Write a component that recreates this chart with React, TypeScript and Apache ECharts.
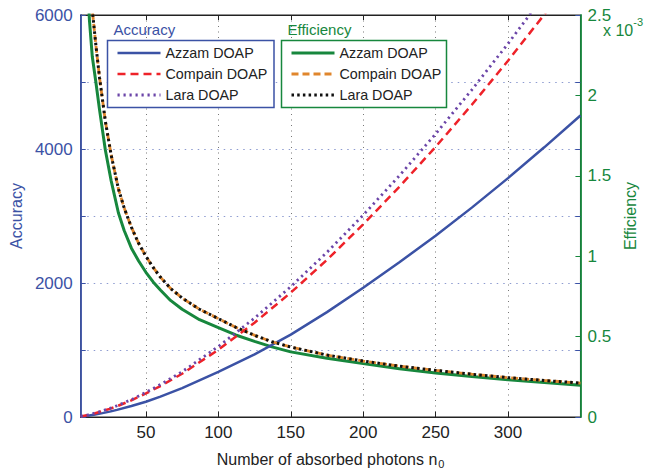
import React, { useEffect, useRef } from "react";
import * as echarts from "echarts";

// ---- data ----
const accN = [5, 10, 15, 20, 25, 30, 40, 50, 60, 75, 100, 125, 150, 175, 200, 225, 250, 275, 300, 325, 350];
const azzamAcc = [5, 20, 38, 58, 80, 106, 165, 228, 305, 430, 672, 935, 1230, 1565, 1930, 2310, 2705, 3125, 3565, 4025, 4500];
const compainAcc = [8, 30, 56, 87, 122, 160, 248, 352, 462, 645, 1003, 1408, 1856, 2345, 2875, 3437, 4032, 4660, 5318, 6006, 6720];
const laraAcc = [9, 31, 59, 91, 128, 168, 260, 368, 484, 676, 1052, 1476, 1945, 2458, 3013, 3602, 4225, 4884, 5573, 6294, 7043];

const effN = [5, 8, 11, 13, 15.5, 18, 22, 26, 31, 35, 40, 45, 50, 55, 60, 67, 75, 87, 100, 112, 125, 137, 150, 175, 200, 225, 250, 275, 300, 325, 350];
// efficiency in units of 1e-3
const azzamEff = [4.1, 3.05, 2.47, 2.24, 2.08, 1.91, 1.66, 1.47, 1.27, 1.16, 1.05, 0.97, 0.9, 0.84, 0.79, 0.725, 0.67, 0.605, 0.556, 0.51, 0.47, 0.436, 0.405, 0.365, 0.332, 0.3, 0.274, 0.252, 0.232, 0.214, 0.197];
const compainEff = [4.7, 3.48, 2.8, 2.53, 2.31, 2.11, 1.84, 1.63, 1.42, 1.3, 1.18, 1.08, 1.0, 0.93, 0.87, 0.8, 0.74, 0.67, 0.612, 0.558, 0.508, 0.468, 0.435, 0.385, 0.348, 0.316, 0.29, 0.266, 0.245, 0.227, 0.211];
const laraEff = [4.7, 3.48, 2.8, 2.53, 2.31, 2.11, 1.84, 1.63, 1.42, 1.3, 1.18, 1.08, 1.0, 0.93, 0.87, 0.8, 0.74, 0.67, 0.612, 0.558, 0.508, 0.468, 0.435, 0.385, 0.348, 0.316, 0.29, 0.266, 0.245, 0.227, 0.211];

const xTicks = [50, 100, 150, 200, 250, 300];
const methodNames = ["Azzam DOAP", "Compain DOAP", "Lara DOAP"];

const FONT = "'Liberation Sans', Arial, Helvetica, sans-serif";
const BLUE = "#3b52a5";
const RED = "#ee2229";
const PURPLE = "#6b45a8";
const GREEN = "#17873d";
const ORANGE = "#e0862c";
const BLACK = "#111111";
const TXT = "#222222";

const pairs = (xs: number[], ys: number[]) => xs.map((x, i) => [x, ys[i]]);

export default function App() {
  const ref = useRef<HTMLDivElement>(null);
  useEffect(() => {
    if (!ref.current) return;
    const chart = echarts.init(ref.current, undefined, { renderer: "svg" });

    const accStyles = [
      { color: BLUE, type: "solid" as any, width: 2.5 },
      { color: RED, type: [8, 5] as any, width: 2.5 },
      { color: PURPLE, type: [2.2, 3.8] as any, width: 2.8 },
    ];
    const effStyles = [
      { color: GREEN, type: "solid" as any, width: 3 },
      { color: ORANGE, type: [7, 4] as any, width: 2.8 },
      { color: BLACK, type: [2.5, 3.2] as any, width: 3 },
    ];

    const legendGraphic = (
      x0: number,
      boxW: number,
      title: string,
      color: string,
      styles: any[]
    ) => {
      const els: any[] = [];
      els.push({
        type: "rect",
        z: 100,
        shape: { x: x0, y: 40.5, width: boxW, height: 67 },
        style: { fill: "#ffffff", stroke: color, lineWidth: 1.5 },
      });
      els.push({
        type: "text",
        z: 101,
        x: x0 + 6,
        y: 29.5,
        style: {
          text: title,
          fill: color,
          font: `15px ${FONT}`,
          verticalAlign: "middle",
        },
      });
      const rows = [53, 74, 95];
      methodNames.forEach((nm, i) => {
        const st = styles[i];
        els.push({
          type: "line",
          z: 101,
          shape: { x1: x0 + 10, y1: rows[i], x2: x0 + 53, y2: rows[i] },
          style: {
            stroke: st.color,
            lineWidth: st.width,
            lineDash: st.type === "solid" ? null : st.type,
          },
        });
        els.push({
          type: "text",
          z: 101,
          x: x0 + 58,
          y: rows[i],
          style: {
            text: nm,
            fill: TXT,
            font: `14.3px ${FONT}`,
            verticalAlign: "middle",
          },
        });
      });
      return els;
    };

    const option: any = {
      animation: false,
      backgroundColor: "#ffffff",
      grid: {
        left: 74,
        right: 62,
        top: 15,
        bottom: 59,
        show: true,
        borderColor: TXT,
        borderWidth: 1,
        backgroundColor: "#ffffff",
      },
      xAxis: [
        {
          type: "value",
          min: 5,
          max: 350,
          position: "bottom",
          axisLine: { show: true, onZero: false, lineStyle: { color: TXT, width: 1.2 } },
          axisTick: {
            show: true,
            inside: true,
            length: 5,
            customValues: xTicks,
            lineStyle: { color: TXT },
          },
          axisLabel: {
            customValues: xTicks,
            color: TXT,
            fontSize: 17,
            margin: 7,
            fontFamily: FONT,
          },
          splitLine: {
            show: true,
            lineStyle: { color: "#777777", type: [1, 4.5], width: 1 },
          },
          name: "{a|Number of absorbed photons n}{b|0}",
          nameLocation: "middle",
          nameGap: 32,
          nameTextStyle: {
            color: TXT,
            fontSize: 16,
            fontFamily: FONT,
            rich: {
              a: { fontSize: 16, color: TXT, fontFamily: FONT },
              b: { fontSize: 11, color: TXT, fontFamily: FONT, padding: [9, 0, 0, 1] },
            },
          },
        },
        {
          type: "value",
          min: 5,
          max: 350,
          position: "top",
          axisLine: { show: true, onZero: false, lineStyle: { color: TXT, width: 1.2 } },
          axisTick: {
            show: true,
            inside: true,
            length: 5,
            customValues: xTicks,
            lineStyle: { color: TXT },
          },
          axisLabel: { show: false },
          splitLine: { show: false },
        },
      ],
      yAxis: [
        {
          type: "value",
          min: 0,
          max: 6000,
          interval: 1000,
          position: "left",
          axisLine: { show: true, onZero: false, lineStyle: { color: BLUE, width: 1.8 } },
          axisTick: { show: true, inside: true, length: 5, lineStyle: { color: BLUE } },
          axisLabel: {
            color: BLUE,
            fontSize: 17,
            margin: 8,
            fontFamily: FONT,
            formatter: (v: number) => (v % 2000 === 0 ? String(v) : ""),
          },
          splitLine: {
            show: true,
            lineStyle: { color: "#8d9bd0", type: [1.5, 5], width: 1.2 },
          },
          name: "Accuracy",
          nameLocation: "middle",
          nameGap: 49,
          nameRotate: 90,
          nameTextStyle: { color: BLUE, fontSize: 16, fontFamily: FONT },
        },
        {
          type: "value",
          min: 0,
          max: 2.5,
          interval: 0.5,
          position: "right",
          axisLine: { show: true, onZero: false, lineStyle: { color: GREEN, width: 1.8 } },
          axisTick: { show: true, inside: true, length: 5, lineStyle: { color: GREEN } },
          axisLabel: {
            color: GREEN,
            fontSize: 17,
            margin: 7,
            fontFamily: FONT,
            formatter: (v: number) => String(Math.round(v * 10) / 10),
          },
          splitLine: { show: false },
          name: "Efficiency",
          nameLocation: "middle",
          nameGap: 40,
          nameRotate: 90,
          nameTextStyle: { color: GREEN, fontSize: 16, fontFamily: FONT },
        },
        {
          type: "value",
          min: 0,
          max: 6000,
          interval: 1000,
          position: "right",
          axisLine: { show: false },
          axisTick: { show: true, inside: true, length: 5, lineStyle: { color: BLUE } },
          axisLabel: { show: false },
          splitLine: { show: false },
        },
      ],
      series: [
        ...[azzamEff, compainEff, laraEff].map((d, i) => ({
          name: methodNames[i] + " (efficiency)",
          type: "line",
          xAxisIndex: 0,
          yAxisIndex: 1,
          data: pairs(effN, d),
          showSymbol: false,
          symbol: "none",
          smooth: false,
          clip: true,
          lineStyle: effStyles[i],
          z: 3 + i,
        })),
        ...[azzamAcc, compainAcc, laraAcc].map((d, i) => ({
          name: methodNames[i] + " (accuracy)",
          type: "line",
          xAxisIndex: 0,
          yAxisIndex: 0,
          data: pairs(accN, d),
          showSymbol: false,
          symbol: "none",
          smooth: false,
          clip: true,
          lineStyle: accStyles[i],
          z: 3 + i,
        })),
      ],
      graphic: [
        ...legendGraphic(107.5, 166.5, "Accuracy", BLUE, accStyles),
        ...legendGraphic(281.5, 165, "Efficiency", GREEN, effStyles),
        {
          type: "text",
          x: 603,
          y: 16,
          style: {
            text: "{a|x 10}{s|-3}",
            fill: GREEN,
            rich: {
              a: { fontSize: 16, fontFamily: FONT, fill: GREEN, padding: [6, 0, 0, 0], verticalAlign: "bottom" },
              s: { fontSize: 11, fontFamily: FONT, fill: GREEN, verticalAlign: "top" },
            },
          },
        },
      ],
    };
    chart.setOption(option);
    return () => chart.dispose();
  }, []);
  return (
    <div
      ref={ref}
      style={{ position: "fixed", left: 0, top: 0, width: 646, height: 476, background: "#fff" }}
    />
  );
}
